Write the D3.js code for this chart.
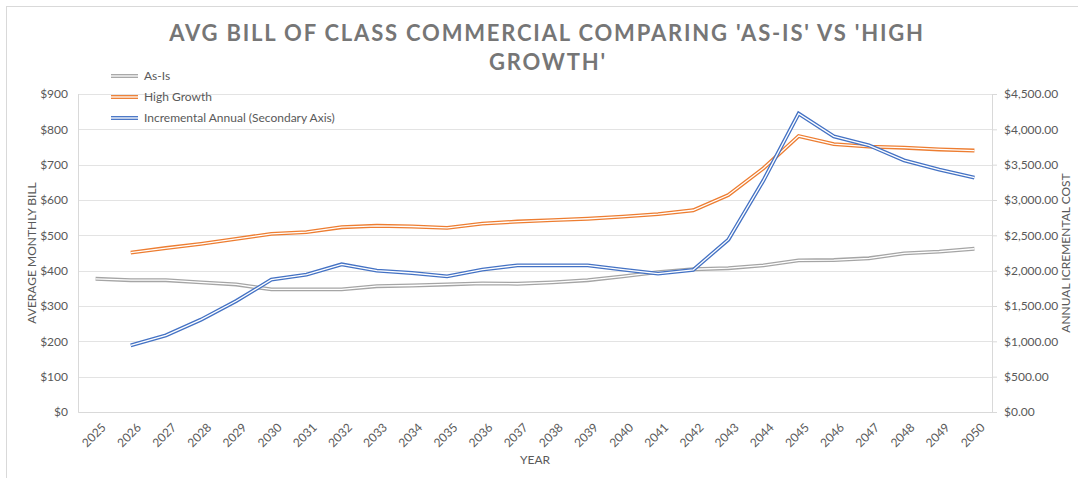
<!DOCTYPE html>
<html>
<head>
<meta charset="utf-8">
<script src="https://cdn.jsdelivr.net/npm/d3@7"></script>
<style>
  body { margin: 0; background: #fff; }
  text { font-family: Lato, "Open Sans", sans-serif; }
</style>
</head>
<body>
<div id="container"></div>
<script>
"use strict";

const width = 1078;
const height = 478;
const margin = { top: 94, right: 86, bottom: 66, left: 78 };

const years = d3.range(2025, 2051);

const asIs = [377, 373, 373, 367, 361, 347, 347, 347, 356, 358, 361, 364, 363,
  367, 373, 384, 396, 404, 407, 415, 429, 430, 435, 449, 454, 462];
const highGrowth = [null, 451, 464, 476, 490, 504, 509, 523, 527, 525, 521, 533,
  539, 543, 547, 553, 560, 571, 614, 690, 781, 758, 751, 748, 743, 740];
const incremental = [null, 943, 1085, 1307, 1571, 1873, 1944, 2090, 2000, 1967,
  1920, 2014, 2075, 2075, 2075, 2014, 1958, 2010, 2439, 3278, 4222, 3901, 3774,
  3561, 3429, 3316];

const leftTicks = d3.range(0, 901, 100);
const rightTicks = d3.range(0, 4501, 500);

const series = [
  { name: "As-Is", values: asIs, axis: "left", color: "#a5a5a5" },
  { name: "High Growth", values: highGrowth, axis: "left", color: "#ed7d31" },
  { name: "Incremental Annual (Secondary Axis)", values: incremental, axis: "right", color: "#4472c4" },
];

const textColor = "#595959";
const gridColor = "#e3e3e3";

const svg = d3.select("#container")
  .append("svg")
  .attr("width", width)
  .attr("height", height);

// chart frame
svg.append("rect")
  .attr("x", 6.5).attr("y", 6.5)
  .attr("width", 1100).attr("height", 500)
  .attr("fill", "#fff")
  .attr("stroke", "#d9d9d9");

const xScale = d3.scaleBand()
  .domain(years)
  .range([margin.left, width - margin.right]);

const yLeft = d3.scaleLinear()
  .domain([0, 900])
  .range([height - margin.bottom, margin.top]);

const yRight = d3.scaleLinear()
  .domain([0, 4500])
  .range([height - margin.bottom, margin.top]);

// gridlines
svg.append("g")
  .selectAll("line")
  .data(leftTicks)
  .enter()
  .append("line")
  .attr("x1", margin.left)
  .attr("x2", width - margin.right)
  .attr("y1", (d) => Math.round(yLeft(d)) + 0.5)
  .attr("y2", (d) => Math.round(yLeft(d)) + 0.5)
  .attr("stroke", gridColor);

// axes
const leftAxis = svg.append("g")
  .attr("transform", `translate(${margin.left}, 0)`)
  .call(d3.axisLeft(yLeft).tickValues(leftTicks).tickSize(0).tickPadding(10)
    .tickFormat((d) => "$" + d));

const rightAxis = svg.append("g")
  .attr("transform", `translate(${width - margin.right}, 0)`)
  .call(d3.axisRight(yRight).tickValues(rightTicks).tickSizeInner(5).tickSizeOuter(0).tickPadding(7)
    .tickFormat((d) => "$" + d3.format(",.2f")(d)));

const xAxis = svg.append("g")
  .attr("transform", `translate(0, ${height - margin.bottom})`)
  .call(d3.axisBottom(xScale).tickSize(0).tickPadding(6));

[leftAxis, rightAxis, xAxis].forEach((g) => {
  g.selectAll(".domain").attr("stroke", "#d9d9d9");
  g.selectAll(".tick line").attr("stroke", "#d9d9d9");
  g.selectAll("text")
    .attr("fill", textColor)
    .style("font-size", "12px");
});
leftAxis.select(".domain").remove();
svg.append("line")
  .attr("x1", margin.left + 0.5).attr("x2", margin.left + 0.5)
  .attr("y1", margin.top).attr("y2", height - margin.bottom)
  .attr("stroke", "#d9d9d9");

xAxis.selectAll("text")
  .attr("text-anchor", "end")
  .attr("dy", "0.35em")
  .attr("transform", "translate(4, 9) rotate(-45)");

// lines, drawn as double lines
series.forEach((s) => {
  const yScale = s.axis === "left" ? yLeft : yRight;
  const line = d3.line()
    .defined((d) => d != null)
    .x((d, i) => xScale(years[i]) + xScale.bandwidth() / 2)
    .y((d) => yScale(d));
  svg.append("path")
    .datum(s.values)
    .attr("d", line)
    .attr("fill", "none")
    .attr("stroke", s.color)
    .attr("stroke-width", 3.9);
  svg.append("path")
    .datum(s.values)
    .attr("d", line)
    .attr("fill", "none")
    .attr("stroke", "#fff")
    .attr("stroke-width", 1.3);
});

// legend
const legend = svg.append("g")
  .selectAll("g")
  .data(series)
  .enter()
  .append("g")
  .attr("transform", (d, i) => `translate(111, ${76 + i * 21})`);

legend.append("line")
  .attr("x1", 0).attr("x2", 27)
  .attr("stroke", (d) => d.color)
  .attr("stroke-width", 3.9);
legend.append("line")
  .attr("x1", 0).attr("x2", 27)
  .attr("stroke", "#fff")
  .attr("stroke-width", 1.3);
legend.append("text")
  .attr("x", 33)
  .attr("dy", "0.35em")
  .attr("fill", textColor)
  .style("font-size", "12px")
  .text((d) => d.name);

// title
svg.append("text")
  .attr("x", 547)
  .attr("y", 41)
  .attr("text-anchor", "middle")
  .attr("fill", "#767676")
  .style("font-size", "22px")
  .style("font-weight", "bold")
  .style("letter-spacing", "1.8px")
  .text("AVG BILL OF CLASS COMMERCIAL COMPARING 'AS-IS' VS 'HIGH");
svg.append("text")
  .attr("x", 548)
  .attr("y", 70)
  .attr("text-anchor", "middle")
  .attr("fill", "#767676")
  .style("font-size", "22px")
  .style("font-weight", "bold")
  .style("letter-spacing", "1.8px")
  .text("GROWTH'");

// axis titles
svg.append("text")
  .attr("transform", `translate(36, ${(margin.top + height - margin.bottom) / 2}) rotate(-90)`)
  .attr("text-anchor", "middle")
  .attr("fill", textColor)
  .style("font-size", "12px")
  .text("AVERAGE MONTHLY BILL");

svg.append("text")
  .attr("transform", `translate(1070, ${(margin.top + height - margin.bottom) / 2}) rotate(-90)`)
  .attr("text-anchor", "middle")
  .attr("fill", textColor)
  .style("font-size", "12px")
  .text("ANNUAL ICREMENTAL COST");

svg.append("text")
  .attr("x", (margin.left + width - margin.right) / 2)
  .attr("y", 464)
  .attr("text-anchor", "middle")
  .attr("fill", textColor)
  .style("font-size", "12px")
  .text("YEAR");
</script>
</body>
</html>
